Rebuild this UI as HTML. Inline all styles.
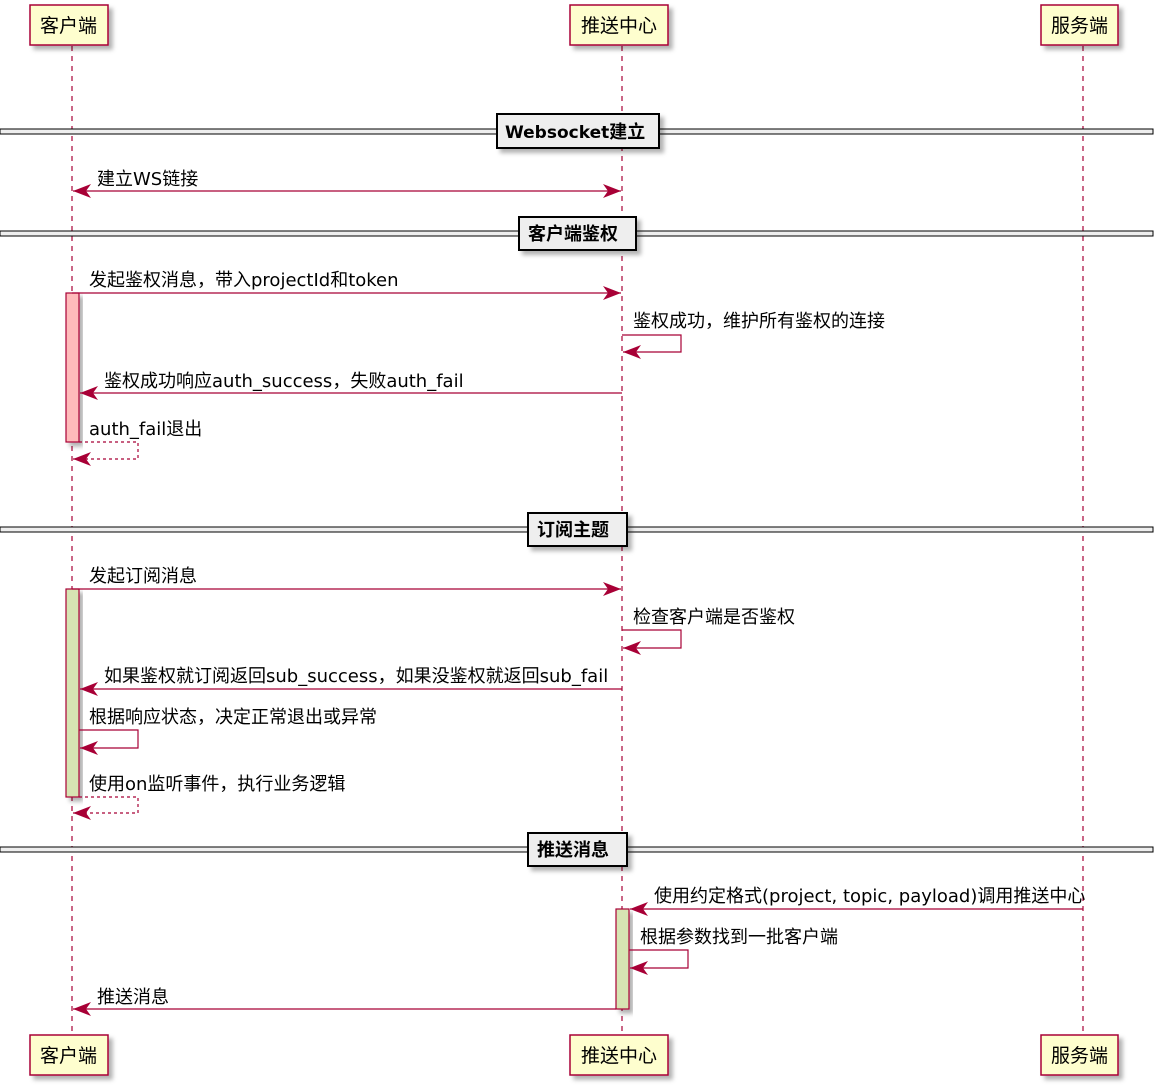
<!DOCTYPE html>
<html><head><meta charset="utf-8"><style>
html,body{margin:0;padding:0;background:#fff;}
svg{display:block;}
text{font-family:"DejaVu Sans","Noto Sans CJK SC",sans-serif;font-size:18px;fill:#000;}
.p{font-size:19px;}
.b{font-weight:bold;font-size:17px;}
.c{font-family:"Noto Sans CJK SC",sans-serif;font-weight:bold;font-size:18px;}
</style></head><body>
<svg width="1163" height="1090" viewBox="0 0 1163 1090" xmlns="http://www.w3.org/2000/svg">
<defs>
<filter id="sh" x="-20%" y="-20%" width="150%" height="150%"><feDropShadow dx="4" dy="4" stdDeviation="2" flood-color="#000" flood-opacity="0.3"/></filter>
<marker id="ar" markerWidth="20" markerHeight="14" refX="18" refY="7" orient="auto" markerUnits="userSpaceOnUse"><path d="M0,0 L18,7 L0,14 L5,7 Z" fill="#A80036"/></marker>
<marker id="al" markerWidth="20" markerHeight="14" refX="0" refY="7" orient="auto" markerUnits="userSpaceOnUse"><path d="M18,0 L0,7 L18,14 L13,7 Z" fill="#A80036"/></marker>
</defs>
<g stroke="#A80036" stroke-width="1.2" stroke-dasharray="5,5">
<line x1="72" y1="46" x2="72" y2="1035"/>
<line x1="622" y1="46" x2="622" y2="1035"/>
<line x1="1083" y1="46" x2="1083" y2="1035"/>
</g>
<g>
<rect x="0" y="129" width="1153" height="5" fill="#EEEEEE" stroke="#000" stroke-width="1"/>
<rect x="0" y="231" width="1153" height="5" fill="#EEEEEE" stroke="#000" stroke-width="1"/>
<rect x="0" y="527" width="1153" height="5" fill="#EEEEEE" stroke="#000" stroke-width="1"/>
<rect x="0" y="847" width="1153" height="5" fill="#EEEEEE" stroke="#000" stroke-width="1"/>
<rect x="497" y="114" width="162" height="34" fill="#EEEEEE" stroke="#000" stroke-width="2" filter="url(#sh)"/>
<text x="505" y="138" class="b">Websocket<tspan class="c">建立</tspan></text>
<rect x="519" y="217" width="117" height="33" fill="#EEEEEE" stroke="#000" stroke-width="2" filter="url(#sh)"/>
<text x="528" y="240" class="c">客户端鉴权</text>
<rect x="528" y="513" width="99" height="33" fill="#EEEEEE" stroke="#000" stroke-width="2" filter="url(#sh)"/>
<text x="537" y="536" class="c">订阅主题</text>
<rect x="528" y="833" width="99" height="33" fill="#EEEEEE" stroke="#000" stroke-width="2" filter="url(#sh)"/>
<text x="537" y="856" class="c">推送消息</text>
</g>
<rect x="66" y="293" width="13" height="149" fill="#FFBBBB" stroke="#A80036" stroke-width="1.2" filter="url(#sh)"/>
<rect x="66" y="589" width="13" height="208" fill="#D7E4B3" stroke="#A80036" stroke-width="1.2" filter="url(#sh)"/>
<rect x="616" y="909" width="13" height="100" fill="#D7E4B3" stroke="#A80036" stroke-width="1.2" filter="url(#sh)"/>
<g fill="#FEFECE" stroke="#A80036" stroke-width="1.5">
<rect x="30" y="5" width="78" height="40" filter="url(#sh)"/>
<rect x="570" y="5" width="98" height="40" filter="url(#sh)"/>
<rect x="1041" y="5" width="77" height="40" filter="url(#sh)"/>
<rect x="30" y="1035" width="78" height="40" filter="url(#sh)"/>
<rect x="570" y="1035" width="98" height="40" filter="url(#sh)"/>
<rect x="1041" y="1035" width="77" height="40" filter="url(#sh)"/>
</g>
<text class="p" x="40" y="32">客户端</text><text class="p" x="581" y="32">推送中心</text><text class="p" x="1051" y="32">服务端</text>
<text class="p" x="40" y="1062">客户端</text><text class="p" x="581" y="1062">推送中心</text><text class="p" x="1051" y="1062">服务端</text>
<g stroke="#A80036" stroke-width="1.2" fill="none">
<line x1="73" y1="191" x2="621" y2="191" marker-start="url(#al)" marker-end="url(#ar)"/>
<line x1="72" y1="293" x2="621" y2="293" marker-end="url(#ar)"/>
<polyline points="622,335 681,335 681,352 623,352" marker-end="url(#ar)"/>
<line x1="622" y1="393" x2="80" y2="393" marker-end="url(#ar)"/>
<polyline points="79,442 138,442 138,459 73,459" stroke-dasharray="3,3" marker-end="url(#ar)"/>
<line x1="72" y1="589" x2="621" y2="589" marker-end="url(#ar)"/>
<polyline points="622,630 681,630 681,648 623,648" marker-end="url(#ar)"/>
<line x1="622" y1="689" x2="80" y2="689" marker-end="url(#ar)"/>
<polyline points="79,730 138,730 138,748 80,748" marker-end="url(#ar)"/>
<polyline points="79,797 138,797 138,813 73,813" stroke-dasharray="3,3" marker-end="url(#ar)"/>
<line x1="1083" y1="909" x2="630" y2="909" marker-end="url(#ar)"/>
<polyline points="629,950 688,950 688,968 630,968" marker-end="url(#ar)"/>
<line x1="616" y1="1009" x2="73" y2="1009" marker-end="url(#ar)"/>
</g>
<text x="97" y="185">建立WS链接</text>
<text x="89" y="286">发起鉴权消息，带入projectId和token</text>
<text x="633" y="327">鉴权成功，维护所有鉴权的连接</text>
<text x="104" y="387">鉴权成功响应auth_success，失败auth_fail</text>
<text x="89" y="435">auth_fail退出</text>
<text x="89" y="582">发起订阅消息</text>
<text x="633" y="623">检查客户端是否鉴权</text>
<text x="104" y="682">如果鉴权就订阅返回sub_success，如果没鉴权就返回sub_fail</text>
<text x="89" y="723">根据响应状态，决定正常退出或异常</text>
<text x="89" y="790">使用on监听事件，执行业务逻辑</text>
<text x="654" y="902">使用约定格式(project, topic, payload)调用推送中心</text>
<text x="640" y="943">根据参数找到一批客户端</text>
<text x="97" y="1003">推送消息</text>
</svg>
</body></html>
